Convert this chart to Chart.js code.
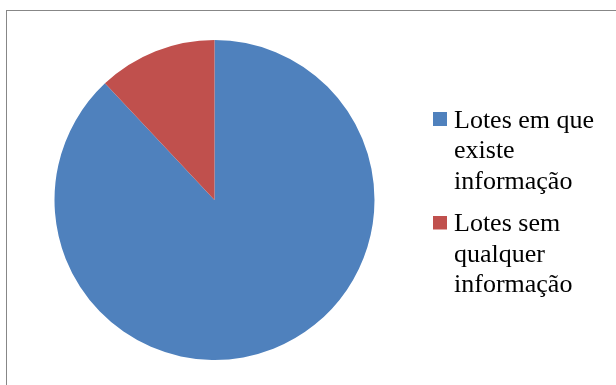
<!DOCTYPE html>
<html>
<head>
<meta charset="utf-8">
<script src="https://cdn.jsdelivr.net/npm/chart.js@4.4.1/dist/chart.umd.min.js"></script>
<style>
  html, body { margin: 0; padding: 0; background: #fff; overflow: hidden; }
  #wrap { position: relative; width: 616px; height: 385px; }
  #frame { position: absolute; left: 6px; top: 10px; width: 700px; height: 500px; border: 1px solid #878787; }
  #chart { position: absolute; left: 0; top: 0; }
</style>
</head>
<body>
<div id="wrap">
  <div id="frame"></div>
  <canvas id="chart" width="616" height="385"></canvas>
</div>
<script>
// legend labels, one line per entry (as in the original)
const categories = [
  ["Lotes em que", "existe", "informação"],
  ["Lotes sem", "qualquer", "informação"]
];
const values = [88, 12];
const colors = ["#4F81BD", "#C0504D"];

Chart.defaults.font.family = '"Liberation Serif", "Times New Roman", serif';

// square legend markers drawn as small canvases: the square sits a bit
// above the centre of the image so it lines up with the first text line
const makeBox = (color) => {
  const c = document.createElement("canvas");
  c.width = 14;
  c.height = 18;
  const g = c.getContext("2d");
  g.fillStyle = color;
  g.fillRect(0, 0, 14, 14);
  return c;
};
const boxes = colors.map(makeBox);

new Chart(document.getElementById("chart"), {
  type: "pie",
  data: {
    labels: categories,
    datasets: [{
      data: values,
      backgroundColor: colors,
      borderWidth: 0,
      hoverOffset: 0
    }]
  },
  options: {
    responsive: false,
    animation: false,
    radius: 160,
    layout: { padding: { left: 2, right: 12, top: 40, bottom: 25 } },
    plugins: {
      tooltip: { enabled: false },
      title: { display: false },
      legend: {
        position: "right",
        maxWidth: 177,
        title: { display: true, text: "", font: { size: 1, lineHeight: 1 }, padding: { top: 0, bottom: 10 } },
        labels: {
          usePointStyle: true,
          pointStyleWidth: 2,
          padding: 12,
          color: "#000",
          font: { size: 26, lineHeight: "30.5px" },
          generateLabels: (chart) => chart.data.labels.map((label, i) => ({
            text: label,
            fillStyle: colors[i],
            strokeStyle: colors[i],
            lineWidth: 0,
            fontColor: "#000",
            pointStyle: boxes[i],
            hidden: false,
            index: i
          }))
        }
      }
    }
  }
});
</script>
</body>
</html>
